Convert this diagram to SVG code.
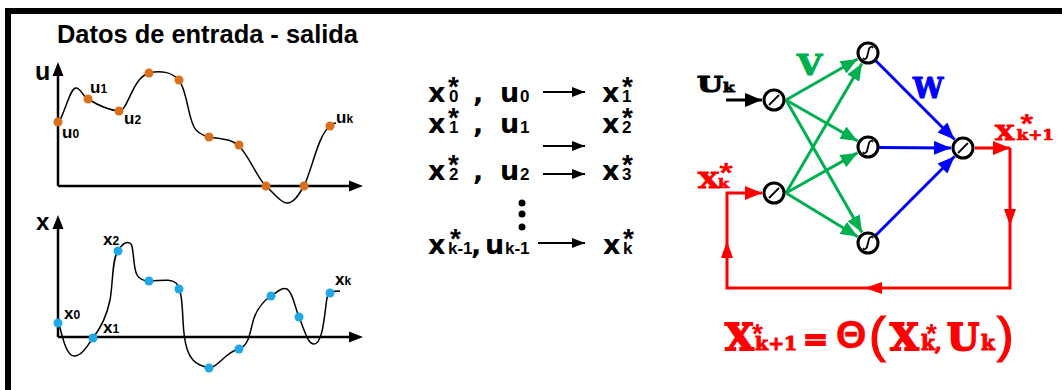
<svg xmlns="http://www.w3.org/2000/svg" width="1062" height="390" viewBox="0 0 1062 390">
<defs>
<style>
.ax{stroke:#000;stroke-width:2.5;fill:none}
.cv{stroke:#000;stroke-width:1.5;fill:none}
.od{fill:#D9701E}
.bd{fill:#1EA8E6}
.lb{font-family:"Liberation Sans",Arial,sans-serif;font-weight:bold;fill:#000}
.mx{font-family:"DejaVu Sans",sans-serif;font-weight:bold;font-size:27px;fill:#000}
.ms{font-family:"Liberation Sans",Arial,sans-serif;font-weight:bold;font-size:17px}
.ast{font-family:"Liberation Sans",Arial,sans-serif;font-weight:bold;font-size:28px}
.sf{font-family:"DejaVu Serif",serif;font-weight:bold}
.nd{fill:#fff;stroke:#000;stroke-width:3}
.sym{fill:none;stroke:#000;stroke-width:1.8}
.g{stroke:#00B050;stroke-width:3;fill:none}
.b{stroke:#0000FF;stroke-width:3;fill:none}
.r{stroke:#FF0000;stroke-width:3;fill:none}
.k{stroke:#000;stroke-width:3;fill:none}
.ma{stroke:#000;stroke-width:2;fill:none}
</style>
<marker id="mg" markerUnits="userSpaceOnUse" markerWidth="18" markerHeight="14" refX="17" refY="7" orient="auto"><path d="M0,0 L17,7 L0,14 Z" fill="#00B050"/></marker>
<marker id="mb" markerUnits="userSpaceOnUse" markerWidth="18" markerHeight="14" refX="17" refY="7" orient="auto"><path d="M0,0 L17,7 L0,14 Z" fill="#0000FF"/></marker>
<marker id="mk" markerUnits="userSpaceOnUse" markerWidth="18" markerHeight="14" refX="17" refY="7" orient="auto"><path d="M0,0 L17,7 L0,14 Z" fill="#000"/></marker>
<marker id="mr" markerUnits="userSpaceOnUse" markerWidth="18" markerHeight="14" refX="17" refY="7" orient="auto"><path d="M0,0 L17,7 L0,14 Z" fill="#FF0000"/></marker>
<marker id="ms" markerUnits="userSpaceOnUse" markerWidth="14" markerHeight="10" refX="13" refY="5" orient="auto"><path d="M0,0 L13,5 L0,10 Z" fill="#000"/></marker>
</defs>
<rect width="1062" height="390" fill="#fff"/>
<path d="M8,390 V11 H1062" stroke="#000" stroke-width="6" fill="none"/>

<g id="title"><text class="lb" x="57" y="43" font-size="25" textLength="301" lengthAdjust="spacingAndGlyphs">Datos de entrada - salida</text></g>

<g id="plot-u">
<path class="ax" d="M58,186 V72 M58,186 H352"/>
<path d="M58,62 L52.5,76 L63.5,76 Z M363,186 L349,180.5 L349,191.5 Z" fill="#000"/>
<text class="lb" x="35" y="80" font-size="25">u</text>
<path class="cv" d="M58,124 C66,110 70,88 76,88 C81,88 83,97 88,99 C96,104 108,110 119,111 C128,111 132,78 149,73 C160,70 172,72 179,80 C188,92 188,122 196,130 C201,135 205,136 209,137 C222,139 232,139 239,146 C250,157 258,180 266,186 C276,196 282,203 287,203 C295,203 300,192 304,186 C312,170 318,135 330,126 C332,124 334,123 336,123"/>
<circle class="od" cx="58" cy="122" r="4.5"/>
<circle class="od" cx="88" cy="99" r="4.5"/>
<circle class="od" cx="119" cy="111" r="4.5"/>
<circle class="od" cx="149" cy="73" r="4.5"/>
<circle class="od" cx="179" cy="80" r="4.5"/>
<circle class="od" cx="209" cy="137" r="4.5"/>
<circle class="od" cx="239" cy="145" r="4.5"/>
<circle class="od" cx="266" cy="186" r="4.5"/>
<circle class="od" cx="304" cy="186" r="4.5"/>
<circle class="od" cx="330" cy="126" r="4.5"/>
<text class="lb" x="62" y="138" font-size="17">u<tspan font-size="12">0</tspan></text>
<text class="lb" x="90" y="93" font-size="17">u<tspan font-size="12">1</tspan></text>
<text class="lb" x="124" y="124" font-size="17">u<tspan font-size="12">2</tspan></text>
<text class="lb" x="336" y="123" font-size="17">u<tspan font-size="12">k</tspan></text>
</g>

<g id="plot-x">
<path class="ax" d="M58,337 V225 M58,337 H352"/>
<path d="M58,215 L52.5,229 L63.5,229 Z M363,337 L349,331.5 L349,342.5 Z" fill="#000"/>
<text class="lb" x="36" y="230" font-size="24">x</text>
<path class="cv" d="M58,320 C62,335 66,356 74,356 C82,356 88,345 93,338 C103,325 108,310 110,300 C113,285 112,258 118,251 C122,244 127,240 131,244 C134,248 133,268 137,275 C140,280 145,281 149,281 C160,281 170,278 176,283 C181,288 182,300 183,320 C184,345 188,360 200,365 C205,367 208,368 209,368 C218,368 225,352 239,349 C250,345 250,330 254,318 C258,307 265,300 271,296 C277,292 282,287 287,289 C293,292 295,308 299,317 C305,332 308,344 314,344 C322,344 324,320 326,305 C327,296 328,293 331,292 C334,291 337,291 340,291"/>
<circle class="bd" cx="58" cy="323" r="4.5"/>
<circle class="bd" cx="93" cy="338" r="4.5"/>
<circle class="bd" cx="118" cy="251" r="4.5"/>
<circle class="bd" cx="149" cy="281" r="4.5"/>
<circle class="bd" cx="179" cy="289" r="4.5"/>
<circle class="bd" cx="209" cy="368" r="4.5"/>
<circle class="bd" cx="239" cy="349" r="4.5"/>
<circle class="bd" cx="271" cy="296" r="4.5"/>
<circle class="bd" cx="299" cy="317" r="4.5"/>
<circle class="bd" cx="330" cy="293" r="4.5"/>
<text class="lb" x="64" y="319" font-size="17">x<tspan font-size="12">0</tspan></text>
<text class="lb" x="103" y="333" font-size="17">x<tspan font-size="12">1</tspan></text>
<text class="lb" x="103" y="245" font-size="17">x<tspan font-size="12">2</tspan></text>
<text class="lb" x="335" y="285" font-size="17">x<tspan font-size="12">k</tspan></text>
</g>

<g id="sequence">
<text class="mx" x="428" y="102">x<tspan class="ast" x="448" y="96">*</tspan><tspan class="ms" x="449" y="102">0</tspan></text>
<text class="mx" x="473" y="102">,</text>
<text class="mx" x="500" y="102">u<tspan class="ms" x="520">0</tspan></text>
<path class="ma" d="M543,92 H585" marker-end="url(#ms)"/>
<text class="mx" x="602" y="102">x<tspan class="ast" x="622" y="96">*</tspan><tspan class="ms" x="622" y="102">1</tspan></text>

<text class="mx" x="428" y="133">x<tspan class="ast" x="448" y="127">*</tspan><tspan class="ms" x="449" y="133">1</tspan></text>
<text class="mx" x="473" y="133">,</text>
<text class="mx" x="500" y="133">u<tspan class="ms" x="520">1</tspan></text>
<path class="ma" d="M543,146 H585" marker-end="url(#ms)"/>
<text class="mx" x="602" y="133">x<tspan class="ast" x="622" y="127">*</tspan><tspan class="ms" x="622" y="133">2</tspan></text>

<text class="mx" x="428" y="180">x<tspan class="ast" x="448" y="174">*</tspan><tspan class="ms" x="449" y="180">2</tspan></text>
<text class="mx" x="473" y="180">,</text>
<text class="mx" x="500" y="180">u<tspan class="ms" x="520">2</tspan></text>
<path class="ma" d="M543,174 H585" marker-end="url(#ms)"/>
<text class="mx" x="602" y="180">x<tspan class="ast" x="622" y="174">*</tspan><tspan class="ms" x="622" y="180">3</tspan></text>
<circle cx="522" cy="203" r="3.5" fill="#000"/>
<circle cx="522" cy="214" r="3.5" fill="#000"/>
<circle cx="522" cy="227" r="3.5" fill="#000"/>

<text class="mx" x="428" y="254">x<tspan class="ast" x="450" y="248">*</tspan><tspan class="ms" x="448" y="254">k-1</tspan></text>
<text class="mx" x="471" y="254">,</text>
<text class="mx" x="485" y="254">u<tspan class="ms" x="505">k-1</tspan></text>
<path class="ma" d="M538,243 H585" marker-end="url(#ms)"/>
<text class="mx" x="603" y="254">x<tspan class="ast" x="623" y="248">*</tspan><tspan class="ms" x="623" y="254">k</tspan></text>
</g>

<g id="connectors">
<path class="k" d="M726,100 H762" marker-end="url(#mk)"/>
<path class="g" d="M786,100 L857.6,59" marker-end="url(#mg)"/>
<path class="g" d="M786,100 L857.6,141" marker-end="url(#mg)"/>
<path class="g" d="M786,100 L862,232.6" marker-end="url(#mg)"/>
<path class="g" d="M786,193 L861.9,63.4" marker-end="url(#mg)"/>
<path class="g" d="M786,193 L857.5,152.9" marker-end="url(#mg)"/>
<path class="g" d="M786,193 L857.8,236.7" marker-end="url(#mg)"/>
<path class="b" d="M875.8,60.8 L954.5,139.5" marker-end="url(#mb)"/>
<path class="b" d="M879,147.5 L951,148" marker-end="url(#mb)"/>
<path class="b" d="M875.8,235.2 L954.5,156.5" marker-end="url(#mb)"/>
<path class="r" d="M975,148 H1010" marker-end="url(#mr)"/>
<path class="r" d="M1010,148 V288 H727 V193 H762" marker-end="url(#mr)"/>
<path d="M1010,226 L1004,209 L1016,209 Z M865,288 L882,282 L882,294 Z M727,241 L721,258 L733,258 Z" fill="#FF0000"/>
</g>

<g id="in-u"><circle class="nd" cx="774" cy="100" r="10"/><path class="sym" d="M769,105 L779,95"/></g>
<g id="in-x"><circle class="nd" cx="774" cy="193" r="10"/><path class="sym" d="M769,198 L779,188"/></g>
<g id="hid-1"><circle class="nd" cx="868" cy="53" r="10"/><path class="sym" d="M863,58 Q865,61 867,57 L869,49 Q871,45 873,48"/></g>
<g id="hid-2"><circle class="nd" cx="868" cy="147" r="10"/><path class="sym" d="M863,152 Q865,155 867,151 L869,143 Q871,139 873,142"/></g>
<g id="hid-3"><circle class="nd" cx="868" cy="243" r="10"/><path class="sym" d="M863,248 Q865,251 867,247 L869,239 Q871,235 873,238"/></g>
<g id="out"><circle class="nd" cx="963" cy="148" r="10"/><path class="sym" d="M958,153 L968,143"/></g>

<g id="net-labels">
<text class="sf" transform="translate(697,92) scale(1.3,1)" font-size="23" fill="#000" stroke="#000" stroke-width="1.2">U<tspan x="20" font-size="13" stroke-width="0.8">k</tspan></text>
<text class="sf" transform="translate(797,75) scale(1.2,1)" font-size="27" fill="#00B050" stroke="#00B050" stroke-width="1.2">V</text>
<text class="sf" x="913" y="98" font-size="27" fill="#0000FF" stroke="#0000FF" stroke-width="1.2">W</text>
<text class="sf" transform="translate(698,188) scale(1.25,1)" font-size="22" fill="#FF0000" stroke="#FF0000" stroke-width="1.1">X<tspan x="16" font-size="13" stroke-width="0.7">k</tspan><tspan class="ast" x="17" y="-6" font-size="26" stroke-width="0">*</tspan></text>
<text class="sf" transform="translate(995,140) scale(1.2,1)" font-size="21" fill="#FF0000" stroke="#FF0000" stroke-width="1.1">X<tspan x="18" font-size="14" stroke-width="0.7">k+1</tspan><tspan class="ast" x="21" y="-7" font-size="26" stroke-width="0">*</tspan></text>
</g>

<g id="equation">
<text class="sf" x="725" y="350" font-size="37" fill="#FF0000" stroke="#FF0000" stroke-width="1.8">X<tspan class="ast" x="752" y="343" font-size="40" stroke-width="0">*</tspan><tspan x="755" y="350" font-size="19" stroke-width="1">k+1</tspan><tspan x="803" y="349" font-size="30">=</tspan><tspan x="836" y="348" font-family="Liberation Sans, Arial, sans-serif" font-size="39" stroke-width="0.5">Θ</tspan><tspan x="869" y="352" font-family="Liberation Sans, Arial, sans-serif" font-size="50" font-weight="normal" stroke-width="1.2">(</tspan><tspan x="890" y="350">X</tspan><tspan class="ast" x="926" y="343" font-size="40" stroke-width="0">*</tspan><tspan x="921" y="350" font-size="20" stroke-width="1">k,</tspan><tspan x="947" y="350">U</tspan><tspan x="981" y="350" font-size="20" stroke-width="1">k</tspan><tspan x="997" y="352" font-family="Liberation Sans, Arial, sans-serif" font-size="50" font-weight="normal" stroke-width="1.2">)</tspan></text>
</g>
</svg>
